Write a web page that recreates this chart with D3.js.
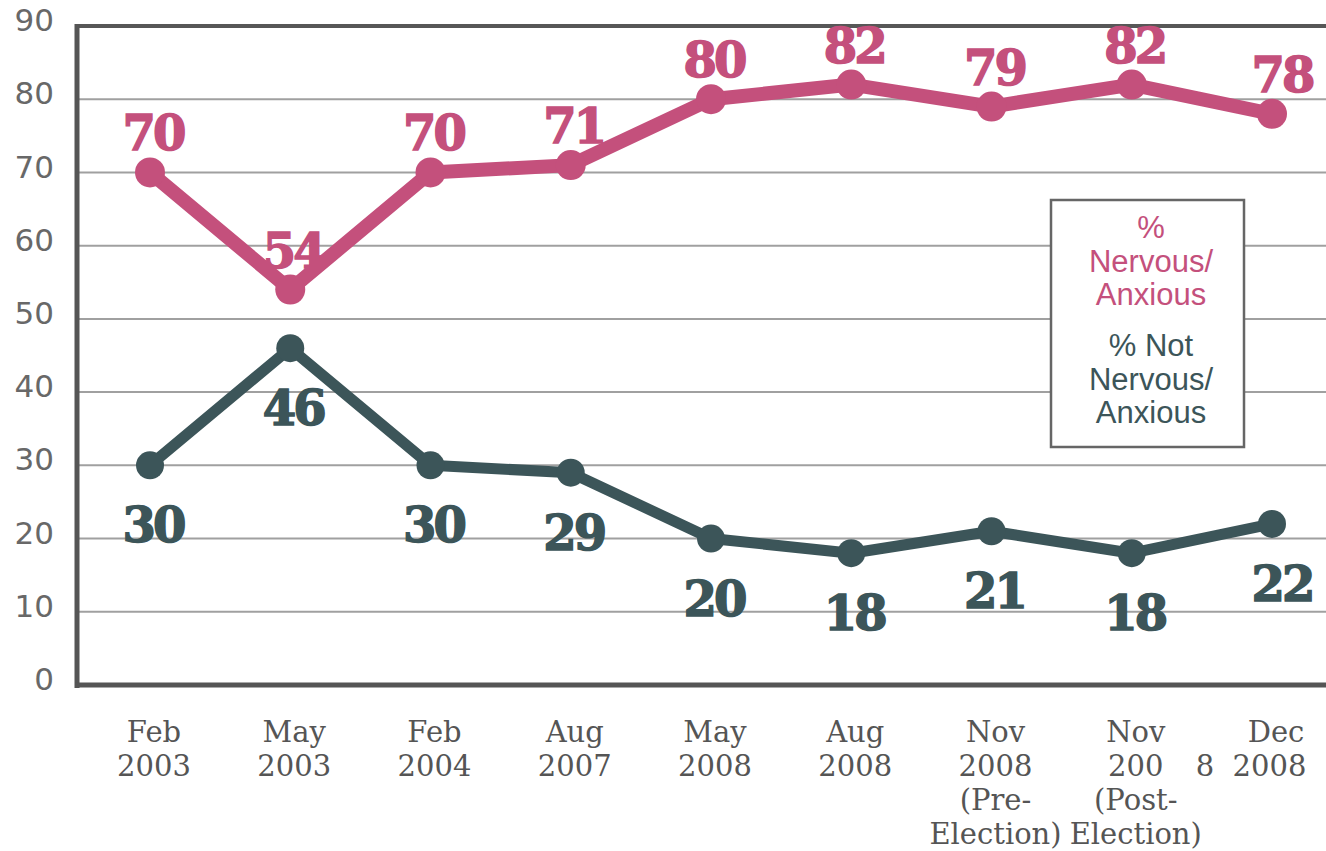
<!DOCTYPE html>
<html>
<head>
<meta charset="utf-8">
<script src="https://cdn.jsdelivr.net/npm/d3@7/dist/d3.min.js"></script>
<style>
  html, body { margin: 0; padding: 0; background: #fff; }
  svg { display: block; }
  .pre { white-space: pre; }
</style>
</head>
<body>
<svg id="chart" width="1326" height="851"></svg>
<script>
// ---- data ----
const categories = ["Feb 2003", "May 2003", "Feb 2004", "Aug 2007", "May 2008", "Aug 2008", "Nov 2008 Pre", "Nov 2008 Post", "Dec 2008"];
const tickLabelLines = [
  ["Feb", "2003"],
  ["May", "2003"],
  ["Feb", "2004"],
  ["Aug", "2007"],
  ["May", "2008"],
  ["Aug", "2008"],
  ["Nov", "2008", "(Pre-", "Election)"],
  ["Nov", "200", "(Post-", "Election)"],
  ["Dec", "8  2008"]
];
const nervous = [70, 54, 70, 71, 80, 82, 79, 82, 78];
const notNervous = [30, 46, 30, 29, 20, 18, 21, 18, 22];
const yTicks = [0, 10, 20, 30, 40, 50, 60, 70, 80, 90];
const legendNervous = ["%", "Nervous/", "Anxious"];
const legendNot = ["% Not", "Nervous/", "Anxious"];

// ---- styles ----
const PINK = "#c4507c";
const TEAL = "#3c5559";

const svg = d3.select("#chart");
const x = d3.scalePoint().domain(categories).range([150, 1272]);
const y = d3.scaleLinear().domain([0, 90]).range([685, 26]);

// gridlines
svg.append("g").selectAll("line")
  .data(yTicks.filter(d => d > 0 && d < 90))
  .join("line")
  .attr("x1", 77).attr("x2", 1326)
  .attr("y1", d => y(d)).attr("y2", d => y(d))
  .attr("stroke", "#a0a0a0").attr("stroke-width", 2);

// top frame line
svg.append("line")
  .attr("x1", 77).attr("x2", 1326)
  .attr("y1", y(90)).attr("y2", y(90))
  .attr("stroke", "#575757").attr("stroke-width", 4);

// y axis
const yAxis = d3.axisLeft(y).tickValues(yTicks).tickSize(0).tickPadding(0);
const yg = svg.append("g").attr("transform", "translate(54,0)").call(yAxis);
yg.select(".domain").remove();
yg.selectAll("text")
  .attr("font-family", "DejaVu Sans, sans-serif")
  .attr("font-size", 31)
  .attr("fill", "#686868")
  .attr("dy", "0.15em");

// left and bottom axis lines
svg.append("line").attr("x1", 77).attr("x2", 77).attr("y1", y(90) - 2).attr("y2", y(0) + 3)
  .attr("stroke", "#555").attr("stroke-width", 5);
svg.append("line").attr("x1", 75).attr("x2", 1326).attr("y1", y(0)).attr("y2", y(0))
  .attr("stroke", "#555").attr("stroke-width", 5);

// x axis labels
const xg = svg.append("g");
categories.forEach((c, i) => {
  const lines = tickLabelLines[i];
  const t = xg.append("text")
    .attr("class", "pre")
    .attr("font-family", "DejaVu Serif, serif")
    .attr("font-size", 29)
    .attr("fill", "#555")
    .attr("text-anchor", "middle");
  lines.forEach((ln, j) => {
    let xx = x(c) + 4;
    if (i === categories.length - 1 && j === 1) xx = x(c) - 21;
    t.append("tspan").attr("x", xx).attr("y", 742 + j * 34).text(ln);
  });
});

// legend box
svg.append("rect")
  .attr("x", 1051).attr("y", 200).attr("width", 193).attr("height", 247)
  .attr("fill", "#fff").attr("stroke", "#666").attr("stroke-width", 2.5);
const lg = svg.append("g")
  .attr("font-family", "Liberation Sans, Arial, sans-serif")
  .attr("font-size", 31)
  .attr("text-anchor", "middle");
legendNervous.forEach((t, j) => {
  lg.append("text").attr("x", 1151).attr("y", 238 + j * 33.5).attr("fill", PINK).text(t);
});
legendNot.forEach((t, j) => {
  lg.append("text").attr("x", 1151).attr("y", 356 + j * 33.5).attr("fill", TEAL).text(t);
});

// series
function drawSeries(values, color, width, r, above) {
  const line = d3.line().x((d, i) => x(categories[i])).y(d => y(d));
  svg.append("path").datum(values)
    .attr("d", line).attr("fill", "none")
    .attr("stroke", color).attr("stroke-width", width)
    .attr("stroke-linejoin", "round");
  svg.append("g").selectAll("circle").data(values).join("circle")
    .attr("cx", (d, i) => x(categories[i]))
    .attr("cy", d => y(d))
    .attr("r", r).attr("fill", color);
  svg.append("g").selectAll("text").data(values).join("text")
    .attr("x", (d, i) => x(categories[i]) + (i === values.length - 1 ? 10 : 3))
    .attr("y", d => above ? y(d) - 22 : y(d) + 77)
    .attr("text-anchor", "middle")
    .attr("font-family", "DejaVu Serif, serif")
    .attr("font-weight", "bold")
    .attr("font-size", 48)
    .attr("letter-spacing", -3)
    .attr("fill", color)
    .attr("stroke", color)
    .attr("stroke-width", 1.5)
    .text(d => d);
}
drawSeries(notNervous, TEAL, 11, 14, false);
drawSeries(nervous, PINK, 14, 15, true);
</script>
</body>
</html>
